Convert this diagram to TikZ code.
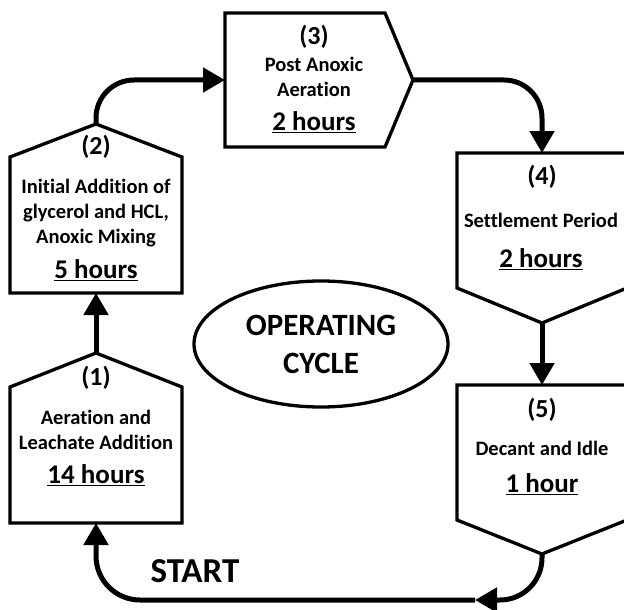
\documentclass[tikz,border=0pt]{standalone}
\usepackage{fontspec}
\setmainfont{Carlito}[Ligatures=NoCommon]
\usetikzlibrary{arrows.meta,shapes.geometric}

\begin{document}
\begin{tikzpicture}[x=1pt,y=-1pt]
\tikzstyle{every node}=[font=\bfseries, inner sep=0pt]
\tikzstyle{stage}=[draw, line width=3.3pt]
\tikzstyle{flow}=[line width=5pt, -{Triangle[length=22pt,width=24pt]}]
\tikzstyle{stagenum}=[font=\bfseries\fontsize{26}{30}\selectfont]
\tikzstyle{stagedesc}=[font=\bfseries\fontsize{20.5}{25}\selectfont, align=center]
\tikzstyle{stagetime}=[font=\bfseries\fontsize{27}{32}\selectfont]

\useasboundingbox (0,0) rectangle (624,610);
\clip (0,0) rectangle (624,610);

% stages
\draw[stage] (10,523) -- (10,387) -- (96,353) coordinate (s1top) -- (182,387) -- (182,523) -- cycle;
\coordinate (s1bot) at (96,523);
\draw[stage] (10,293) -- (10,157) -- (96,124) coordinate (s2top) -- (182,157) -- (182,293) -- cycle;
\coordinate (s2bot) at (96,293);
\draw[stage] (225,13) -- (385,13) -- (413,80) coordinate (s3east) -- (385,147) -- (225,147) -- cycle;
\coordinate (s3west) at (225,80);
\draw[stage] (457,153) -- (627,153) -- (627,288) -- (542,323) coordinate (s4bot) -- (457,288) -- cycle;
\coordinate (s4top) at (542,153);
\draw[stage] (457,385) -- (627,385) -- (627,520) -- (542,554) coordinate (s5bot) -- (457,520) -- cycle;
\coordinate (s5top) at (542,385);

\node[stagenum] (n1) at (96,378) {(1)};
\node[stagedesc] (d1) at (96,430) {Aeration and\\Leachate Addition};
\node[stagetime] (t1) at (96,475) {\underline{14 hours}};

\node[stagenum] (n2) at (96,147) {(2)};
\node[stagedesc] (d2) at (96,213) {Initial Addition of\\glycerol and HCL,\\Anoxic Mixing};
\node[stagetime] (t2) at (96,270) {\underline{5 hours}};

\node[stagenum] (n3) at (314,37) {(3)};
\node[stagedesc] (d3) at (314,77) {Post Anoxic\\Aeration};
\node[stagetime] (t3) at (314,122) {\underline{2 hours}};

\node[stagenum] (n4) at (542,177) {(4)};
\node[stagedesc] (d4) at (541,220) {Settlement Period};
\node[stagetime] (t4) at (541,259) {\underline{2 hours}};

\node[stagenum] (n5) at (542,410) {(5)};
\node[stagedesc] (d5) at (542,448) {Decant and Idle};
\node[stagetime] (t5) at (542,484) {\underline{1 hour}};

\node[draw, ellipse, line width=3.3pt, minimum width=254pt, minimum height=126pt,
  align=center, font=\bfseries\fontsize{31}{38}\selectfont] (cycle) at (321,344) {OPERATING\\CYCLE};

\node[font=\bfseries\fontsize{35}{40}\selectfont] (start) at (195,571) {START};

% connectors
\draw[flow] (s1top) -- (s2bot);
\draw[flow, rounded corners=38pt] (s2top) |- (s3west);
\draw[flow, rounded corners=38pt] (s3east) -| (s4top);
\draw[flow] (s4bot) -- (s5top);
\coordinate (back) at (475,600);
\draw[flow, rounded corners=42pt] (s5bot) |- (back);
\draw[flow, rounded corners=44pt] (back) -| (s1bot);

\end{tikzpicture}
\end{document}
